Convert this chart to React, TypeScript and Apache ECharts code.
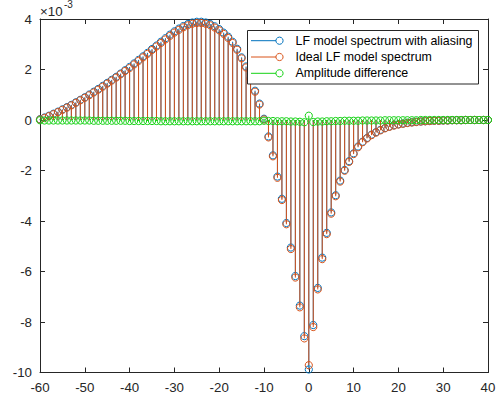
import { useEffect, useRef } from 'react';
import * as echarts from 'echarts';

// x positions (frequency bins) from -60 to 40
const xValues: number[] = Array.from({ length: 101 }, (_, i) => i - 60);

// values in units of 1e-3
const aliasedSpectrum: number[] = [
  0.03, 0.10, 0.17, 0.25, 0.33, 0.42, 0.51, 0.60, 0.70, 0.80,
  0.90, 1.01, 1.12, 1.23, 1.35, 1.47, 1.59, 1.71, 1.84, 1.97,
  2.10, 2.24, 2.38, 2.52, 2.66, 2.81, 2.95, 3.10, 3.24, 3.38,
  3.51, 3.62, 3.72, 3.80, 3.86, 3.89, 3.89, 3.86, 3.80, 3.71,
  3.60, 3.46, 3.30, 3.10, 2.82, 2.48, 2.12, 1.66, 1.16, 0.65,
  0.05, -0.65, -1.40, -2.24, -3.12, -4.08, -5.05, -6.18, -7.35, -8.56,
  -9.88, -8.12, -6.65, -5.45, -4.47, -3.66, -2.98, -2.40, -1.98, -1.63,
  -1.32, -1.05, -0.86, -0.71, -0.58, -0.48, -0.39, -0.32, -0.26, -0.21,
  -0.17, -0.14, -0.11, -0.09, -0.07, -0.06, -0.05, -0.04, -0.03, -0.03,
  -0.02, -0.02, -0.01, -0.01, -0.01, 0.00, 0.00, 0.00, 0.00, 0.00,
  0.00,
];

const idealSpectrum: number[] = [
  0.02, 0.08, 0.15, 0.23, 0.31, 0.40, 0.49, 0.58, 0.68, 0.78,
  0.88, 0.98, 1.09, 1.20, 1.32, 1.44, 1.56, 1.68, 1.81, 1.94,
  2.06, 2.20, 2.34, 2.48, 2.62, 2.77, 2.91, 3.05, 3.19, 3.33,
  3.46, 3.57, 3.67, 3.75, 3.81, 3.84, 3.84, 3.81, 3.75, 3.66,
  3.55, 3.41, 3.25, 3.05, 2.78, 2.44, 2.08, 1.62, 1.12, 0.61,
  0.02, -0.69, -1.44, -2.29, -3.17, -4.13, -5.11, -6.24, -7.42, -8.65,
  -9.71, -8.20, -6.71, -5.51, -4.52, -3.71, -3.02, -2.44, -2.01, -1.66,
  -1.35, -1.08, -0.88, -0.73, -0.60, -0.50, -0.41, -0.33, -0.27, -0.22,
  -0.18, -0.15, -0.12, -0.10, -0.08, -0.06, -0.05, -0.04, -0.03, -0.03,
  -0.02, -0.02, -0.01, -0.01, -0.01, 0.00, 0.00, 0.00, 0.00, 0.00,
  0.00,
];

const amplitudeDiff: number[] = [
  -0.01, -0.02, -0.02, -0.02, -0.02, -0.02, -0.02, -0.02, -0.02, -0.02,
  -0.02, -0.02, -0.03, -0.03, -0.03, -0.03, -0.03, -0.03, -0.03, -0.03,
  -0.04, -0.04, -0.04, -0.04, -0.04, -0.04, -0.04, -0.05, -0.05, -0.05,
  -0.05, -0.05, -0.05, -0.05, -0.05, -0.05, -0.05, -0.05, -0.05, -0.05,
  -0.05, -0.05, -0.05, -0.05, -0.05, -0.05, -0.05, -0.05, -0.05, -0.05,
  -0.03, -0.04, -0.04, -0.05, -0.05, -0.05, -0.06, -0.06, -0.07, -0.09,
  0.17, -0.08, -0.06, -0.06, -0.05, -0.05, -0.04, -0.04, -0.03, -0.03,
  -0.03, -0.03, -0.02, -0.02, -0.02, -0.02, -0.02, -0.01, -0.01, -0.01,
  -0.01, -0.01, -0.01, -0.01, -0.01, 0.00, 0.00, 0.00, 0.00, 0.00,
  0.00, 0.00, 0.00, 0.00, 0.00, 0.00, 0.00, 0.00, 0.00, 0.00,
  0.00,
];

const seriesNames = ['LF model spectrum with aliasing', 'Ideal LF model spectrum', 'Amplitude difference'];
const seriesColors = ['#0072BD', '#D95319', '#14d214'];

const FONT = 'Liberation Sans, Arial, Helvetica, sans-serif';
const AXIS_COLOR = '#262626';
const MARKER_R = 3.6;

function stemSeries(name: string, values: number[], color: string, z: number) {
  return {
    type: 'custom',
    name,
    z,
    silent: true,
    clip: false,
    data: xValues.map((x, i) => [x, values[i]]),
    renderItem: (_params: any, api: any) => {
      const x = api.value(0);
      const y = api.value(1);
      const base = api.coord([x, 0]);
      const tip = api.coord([x, y]);
      return {
        type: 'group',
        children: [
          {
            type: 'line',
            shape: { x1: base[0], y1: base[1], x2: tip[0], y2: tip[1] },
            style: { stroke: color, lineWidth: 1 },
          },
          {
            type: 'circle',
            shape: { cx: tip[0], cy: tip[1], r: MARKER_R },
            style: { fill: 'none', stroke: color, lineWidth: 1 },
          },
        ],
      };
    },
  };
}

export default function App() {
  const ref = useRef<HTMLDivElement>(null);

  useEffect(() => {
    if (!ref.current) return;
    const chart = echarts.init(ref.current, undefined, { renderer: 'svg' });

    const axisLine = { show: true, onZero: false, lineStyle: { color: AXIS_COLOR, width: 1 } };
    const axisTick = { show: true, inside: true, length: 5, lineStyle: { color: AXIS_COLOR, width: 1 } };
    const axisLabel = { color: AXIS_COLOR, fontSize: 13.3, fontFamily: FONT };

    const legendTop = 40.7;
    const legendGap = 16.3;
    const legendElems: any[] = [
      {
        type: 'rect',
        shape: { x: 247.5, y: 30.5, width: 231, height: 53.5 },
        style: { fill: '#ffffff', stroke: AXIS_COLOR, lineWidth: 1 },
        z: 100,
      },
    ];
    seriesNames.forEach((name, i) => {
      const yy = legendTop + i * legendGap;
      legendElems.push(
        {
          type: 'line',
          shape: { x1: 251, y1: yy, x2: 276, y2: yy },
          style: { stroke: seriesColors[i], lineWidth: 1 },
          z: 101,
        },
        {
          type: 'circle',
          shape: { cx: 279.5, cy: yy, r: MARKER_R },
          style: { fill: 'none', stroke: seriesColors[i], lineWidth: 1 },
          z: 101,
        },
        {
          type: 'text',
          x: 295.5,
          y: yy,
          style: {
            text: name,
            fill: '#000000',
            font: `12.4px ${FONT}`,
            textAlign: 'left',
            textVerticalAlign: 'middle',
            align: 'left',
            verticalAlign: 'middle',
          },
          z: 101,
        }
      );
    });

    const option: any = {
      animation: false,
      backgroundColor: '#ffffff',
      grid: { left: 40, right: 13, top: 19, bottom: 26.5, containLabel: false },
      xAxis: [
        {
          type: 'value',
          min: -60,
          max: 40,
          interval: 10,
          position: 'bottom',
          axisLine,
          axisTick,
          axisLabel: { ...axisLabel, margin: 8 },
          splitLine: { show: false },
        },
        {
          type: 'value',
          min: -60,
          max: 40,
          interval: 10,
          position: 'top',
          axisLine,
          axisTick,
          axisLabel: { show: false },
          splitLine: { show: false },
        },
      ],
      yAxis: [
        {
          type: 'value',
          min: -10,
          max: 4,
          interval: 2,
          position: 'left',
          axisLine,
          axisTick,
          axisLabel: { ...axisLabel, margin: 8 },
          splitLine: { show: false },
        },
        {
          type: 'value',
          min: -10,
          max: 4,
          interval: 2,
          position: 'right',
          axisLine,
          axisTick,
          axisLabel: { show: false },
          splitLine: { show: false },
        },
      ],
      series: [
        stemSeries(seriesNames[0], aliasedSpectrum, seriesColors[0], 2),
        stemSeries(seriesNames[1], idealSpectrum, seriesColors[1], 3),
        stemSeries(seriesNames[2], amplitudeDiff, seriesColors[2], 4),
      ],
      graphic: [
        {
          type: 'text',
          x: 40,
          y: 11,
          style: {
            text: '×10',
            fill: AXIS_COLOR,
            font: `13.3px ${FONT}`,
            textAlign: 'left',
            textVerticalAlign: 'middle',
            align: 'left',
            verticalAlign: 'middle',
          },
        },
        {
          type: 'text',
          x: 64,
          y: 4.5,
          style: {
            text: '-3',
            fill: AXIS_COLOR,
            font: `10px ${FONT}`,
            textAlign: 'left',
            textVerticalAlign: 'middle',
            align: 'left',
            verticalAlign: 'middle',
          },
        },
        ...legendElems,
      ],
    };

    chart.setOption(option);
    return () => chart.dispose();
  }, []);

  return (
    <div
      ref={ref}
      style={{ position: 'fixed', left: 0, top: 0, width: 501, height: 399, background: '#fff' }}
    />
  );
}
